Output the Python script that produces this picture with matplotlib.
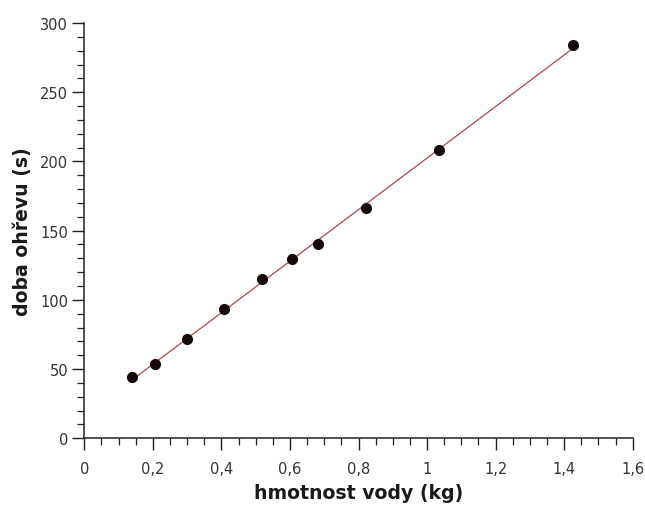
import numpy as np
import matplotlib
matplotlib.use("Agg")
import matplotlib.pyplot as plt
from matplotlib.ticker import MultipleLocator, FuncFormatter

# data
mass_kg = [0.140, 0.206, 0.300, 0.408, 0.518, 0.606, 0.683, 0.822, 1.036, 1.427]
time_s = [44.2, 53.8, 71.7, 93.2, 114.9, 129.4, 140.4, 166.2, 208.5, 284.4]
x_label = "hmotnost vody (kg)"
y_label = "doba ohřevu (s)"

fig = plt.figure(figsize=(6.45, 5.06), dpi=100)
ax = fig.add_axes([0.1307, 0.1318, 0.981 - 0.1307, 0.9526 - 0.1318])

x = np.array(mass_kg)
y = np.array(time_s)
k, q = np.polyfit(x, y, 1)
xl = np.array([x.min(), x.max()])
ax.plot(xl, k * xl + q, color="#b04848", lw=0.9, zorder=2)
ax.plot(x, y, "o", color="#140808", ms=7, zorder=3)

ax.set_xlim(0, 1.6)
ax.set_ylim(0, 300)
ax.xaxis.set_major_locator(MultipleLocator(0.2))
ax.xaxis.set_minor_locator(MultipleLocator(0.05))
ax.yaxis.set_major_locator(MultipleLocator(50))
ax.yaxis.set_minor_locator(MultipleLocator(10))

def fmt(v, pos):
    s = f"{v:.1f}".rstrip("0").rstrip(".")
    return s.replace(".", ",")
ax.xaxis.set_major_formatter(FuncFormatter(fmt))

for s in ["top", "right"]:
    ax.spines[s].set_visible(False)
for s in ["left", "bottom"]:
    ax.spines[s].set_color("#222222")
    ax.spines[s].set_linewidth(1.1)

ax.tick_params(axis="both", which="major", length=8.6, width=1.0, color="#222222",
               labelsize=10.5, labelcolor="#333333", direction="out")
ax.tick_params(axis="both", which="minor", length=5.3, width=0.9, color="#222222",
               direction="out")
ax.tick_params(axis="y", which="major", pad=3)
ax.tick_params(axis="x", which="major", pad=8)

ax.set_xlabel(x_label, fontsize=13.6, fontweight="bold", color="#1a1a1a", labelpad=5)
ax.set_ylabel(y_label, fontsize=13.6, fontweight="bold", color="#1a1a1a", labelpad=6)

fig.savefig("out.png", dpi=100, facecolor="white")
